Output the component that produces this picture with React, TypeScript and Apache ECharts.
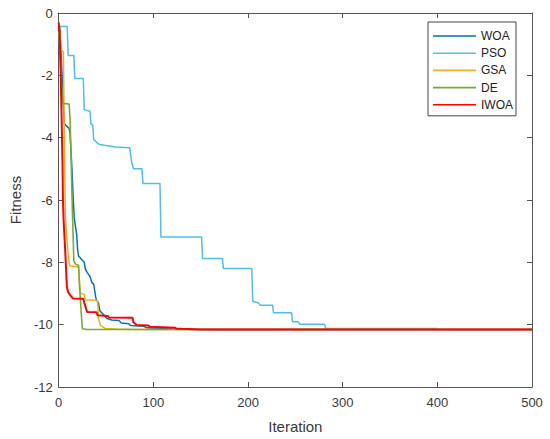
import React, { useEffect, useRef } from "react";
import * as echarts from "echarts";

const X_TICKS = [0, 100, 200, 300, 400, 500];
const Y_TICKS = [-12, -10, -8, -6, -4, -2, 0];
const SERIES_NAMES = ["WOA", "PSO", "GSA", "DE", "IWOA"];
const COLORS = ["#0072BD", "#4DBEEE", "#EDB120", "#77AC30", "#FF0000"];
const WIDTHS = [1.5, 1.5, 1.5, 1.6, 2];

const BEST = -10.1532;

const WOA: number[][] = [
  [1, -0.45], [3, -1.6], [5, -3.0], [6, -3.55], [8, -3.62], [11, -3.7], [12, -3.85],
  [14, -5.0], [15.5, -6.05], [16.5, -6.6], [18, -6.9], [19, -7.1], [20, -7.6], [21, -7.8],
  [24, -7.9], [27, -8.0], [28, -8.2], [30, -8.32], [33, -8.45], [35, -8.65], [37, -8.7],
  [39, -9.1], [40, -9.22], [42, -9.3], [43.5, -9.55], [45, -9.6], [48, -9.7], [51, -9.8],
  [56, -9.85], [64, -9.87], [66, -9.95], [74, -9.97], [76, -10.03], [90, -10.05],
  [93, -10.1], [105, -10.12], [120, -10.14], [140, BEST], [500, BEST],
];

const PSO: number[][] = [
  [1, -0.43], [9, -0.43], [10, -1.36], [16, -1.36], [17, -2.1], [26, -2.1], [27, -3.1],
  [33, -3.15], [34, -3.55], [36, -3.6], [37, -4.05], [40, -4.15], [43, -4.22], [50, -4.25],
  [60, -4.3], [75, -4.32], [77, -4.78], [79, -5.0], [88, -5.0], [89, -5.47], [107, -5.47],
  [108, -7.19], [151, -7.19], [152, -7.88], [173, -7.88], [174, -8.2], [204, -8.2],
  [205, -9.25], [211, -9.3], [213, -9.38], [226, -9.38], [227, -9.62], [246, -9.62],
  [247, -9.91], [253, -9.91], [255, -9.99], [281, -9.99], [282, -10.12], [400, -10.12],
];

const GSA: number[][] = [
  [1, -0.5], [2, -1.0], [3, -1.2], [5, -1.25], [6, -4.0], [7, -6.5], [9, -7.4], [11, -8.0],
  [12, -8.12], [21, -8.15], [22, -8.7], [23, -9.0], [27, -9.02], [28, -9.2], [41, -9.22],
  [42, -9.8], [44, -10.02], [49, -10.12], [60, -10.14], [80, BEST], [500, BEST],
];

const DE: number[][] = [
  [0, -0.6], [2, -1.5], [4, -2.9], [11, -2.92], [12, -3.4], [13, -4.5], [14, -5.8],
  [15, -6.9], [16, -7.95], [17.5, -8.05], [21, -8.1], [22.5, -9.0], [24, -9.7],
  [25, -10.13], [30, BEST], [500, BEST],
];

const IWOA: number[][] = [
  [0, -0.3], [1, -0.6], [2, -1.8], [3, -3.2], [4, -4.8], [4.5, -6.0], [5.2, -6.66],
  [7, -7.7], [8.7, -8.8], [10, -8.95], [12.3, -9.06], [15, -9.16], [26, -9.17],
  [27, -9.3], [28, -9.38], [29, -9.5], [30, -9.59], [40, -9.6], [41, -9.7], [52, -9.72],
  [53, -9.77], [78, -9.78], [79, -9.92], [81, -9.97], [82, -10.01], [95, -10.03],
  [96, -10.07], [123, -10.1], [124, -10.12], [130, -10.13], [150, BEST], [500, BEST],
];

const DATA = [WOA, PSO, GSA, DE, IWOA];

const FONT = "'Liberation Sans', Arial, Helvetica, sans-serif";
const AXIS_COLOR = "#555555";
const TEXT_COLOR = "#3a3a3a";

export default function App() {
  const ref = useRef<HTMLDivElement>(null);

  useEffect(() => {
    if (!ref.current) return;
    const chart = echarts.init(ref.current, undefined, { renderer: "svg" });

    const baseX = {
      type: "value" as const,
      min: X_TICKS[0],
      max: X_TICKS[X_TICKS.length - 1],
      interval: 100,
      splitLine: { show: false },
      axisLine: { show: true, onZero: false, lineStyle: { color: AXIS_COLOR, width: 1 } },
      axisTick: { show: true, inside: true, length: 5, lineStyle: { color: AXIS_COLOR } },
    };
    const baseY = {
      type: "value" as const,
      min: Y_TICKS[0],
      max: Y_TICKS[Y_TICKS.length - 1],
      interval: 2,
      splitLine: { show: false },
      axisLine: { show: true, onZero: false, lineStyle: { color: AXIS_COLOR, width: 1 } },
      axisTick: { show: true, inside: true, length: 5, lineStyle: { color: AXIS_COLOR } },
    };

    chart.setOption({
      animation: false,
      backgroundColor: "#ffffff",
      textStyle: { fontFamily: FONT },
      grid: { left: 55, right: 18, top: 13, bottom: 52, containLabel: false },
      legend: {
        orient: "vertical",
        left: 428,
        top: 22,
        data: SERIES_NAMES,
        icon: "rect",
        itemWidth: 43,
        itemHeight: 1.6,
        itemGap: 3.2,
        itemTextGap: 5,
        padding: [7, 3, 4, 5],
        borderColor: "#444444",
        borderWidth: 1,
        backgroundColor: "#ffffff",
        textStyle: { fontFamily: FONT, fontSize: 12, color: "#222222", lineHeight: 14 },
      },
      xAxis: [
        {
          ...baseX,
          position: "bottom",
          name: "Iteration",
          nameLocation: "middle",
          nameGap: 32,
          nameTextStyle: { fontFamily: FONT, fontSize: 15, color: TEXT_COLOR },
          axisLabel: { show: true, margin: 9, fontFamily: FONT, fontSize: 13, color: TEXT_COLOR },
        },
        {
          ...baseX,
          position: "top",
          axisLabel: { show: false },
        },
      ],
      yAxis: [
        {
          ...baseY,
          position: "left",
          name: "Fitness",
          nameLocation: "middle",
          nameGap: 35,
          nameTextStyle: { fontFamily: FONT, fontSize: 15, color: TEXT_COLOR },
          axisLabel: { show: true, margin: 6, fontFamily: FONT, fontSize: 13, color: TEXT_COLOR },
        },
        {
          ...baseY,
          position: "right",
          axisLabel: { show: false },
        },
      ],
      series: SERIES_NAMES.map((name, i) => ({
        name,
        type: "line",
        xAxisIndex: 0,
        yAxisIndex: 0,
        data: DATA[i],
        showSymbol: false,
        symbol: "none",
        clip: true,
        color: COLORS[i],
        lineStyle: { color: COLORS[i], width: WIDTHS[i] },
        z: 2 + i,
      })),
    });

    return () => {
      chart.dispose();
    };
  }, []);

  return (
    <div
      ref={ref}
      style={{ position: "fixed", left: 0, top: 0, width: 550, height: 439, background: "#fff" }}
    />
  );
}
